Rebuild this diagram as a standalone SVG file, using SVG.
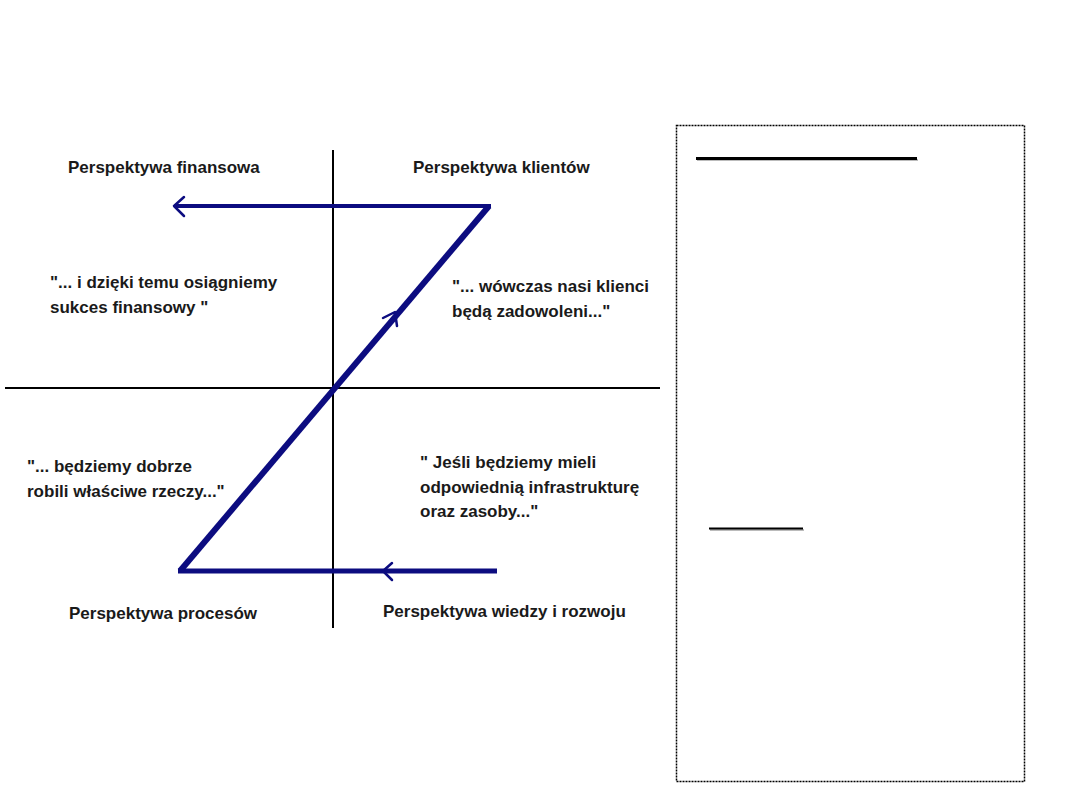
<svg xmlns="http://www.w3.org/2000/svg" width="1080" height="810" viewBox="0 0 1080 810">
<defs>
<style>
.t{font-family:"Liberation Sans",Arial,sans-serif;font-size:17px;font-weight:bold;fill:#1a1a1a}
.ax{stroke:#000;stroke-width:2;fill:none}
.z{stroke:#0c0c80;fill:none;stroke-linejoin:miter}
.ah{stroke:#0c0c80;stroke-width:2.5;fill:none;stroke-linecap:round;stroke-linejoin:round}
</style>
</defs>
<rect width="1080" height="810" fill="#fff"/>
<g id="axes">
<line class="ax" x1="333" y1="150" x2="333" y2="628"/>
<line class="ax" x1="5" y1="388" x2="660" y2="388"/>
</g>
<g id="connectors">
<line class="z" x1="497" y1="571" x2="178" y2="571" stroke-width="5"/>
<line class="z" x1="180" y1="571" x2="489" y2="206" stroke-width="6"/>
<line class="z" x1="491" y1="206" x2="174" y2="206" stroke-width="4"/>
<path class="ah" d="M184,197 L174,206 L184,216"/>
<path class="ah" d="M392,563 L383,571 L392,580"/>
<path class="ah" d="M383,318 L395,312 L397,326"/>
</g>
<g id="finansowa">
<text class="t" x="68" y="173">Perspektywa finansowa</text>
<text class="t" x="50" y="288">"... i dzięki temu osiągniemy</text>
<text class="t" x="50" y="313">sukces finansowy "</text>
</g>
<g id="klienci">
<text class="t" x="413" y="173">Perspektywa klientów</text>
<text class="t" x="452" y="292">"... wówczas nasi klienci</text>
<text class="t" x="452" y="317">będą zadowoleni..."</text>
</g>
<g id="procesy">
<text class="t" x="27" y="472">"... będziemy dobrze</text>
<text class="t" x="27" y="497">robili właściwe rzeczy..."</text>
<text class="t" x="69" y="619">Perspektywa procesów</text>
</g>
<g id="wiedza">
<text class="t" x="420" y="468">" Jeśli będziemy mieli</text>
<text class="t" x="420" y="493">odpowiednią infrastrukturę</text>
<text class="t" x="420" y="517">oraz zasoby..."</text>
<text class="t" x="383" y="617">Perspektywa wiedzy i rozwoju</text>
</g>
<g id="sidebox">
<rect x="676.5" y="125.5" width="348" height="656" fill="none" stroke="#000" stroke-width="1.5" stroke-dasharray="2 1"/>
<line x1="697" y1="160" x2="918" y2="160" stroke="#bbb" stroke-width="2"/>
<line x1="696" y1="158.5" x2="917" y2="158.5" stroke="#000" stroke-width="3"/>
<line x1="710" y1="530" x2="804" y2="530" stroke="#bbb" stroke-width="2"/>
<line x1="709" y1="528.5" x2="803" y2="528.5" stroke="#000" stroke-width="2"/>
</g>
</svg>
